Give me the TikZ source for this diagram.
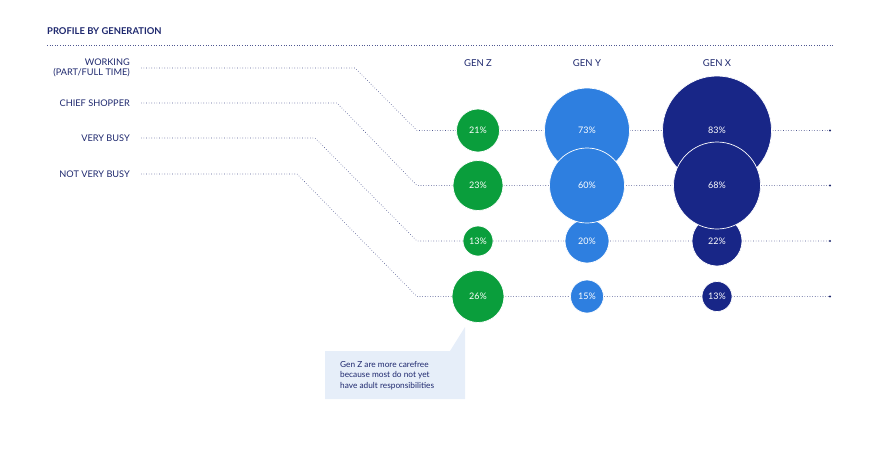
\documentclass[tikz,border=0pt]{standalone}
\usepackage{fontspec}
\setmainfont{Lato}
\definecolor{inknavy}{RGB}{30,40,110}
\definecolor{guidegray}{RGB}{80,88,145}
\definecolor{genzgreen}{RGB}{10,158,60}
\definecolor{genyblue}{RGB}{46,127,224}
\definecolor{genxnavy}{RGB}{24,38,135}
\definecolor{notebg}{RGB}{230,238,249}
\begin{document}
\begin{tikzpicture}[x=1pt,y=-1pt]
	\tikzstyle{rowlabel} = [anchor=east,align=right,text=inknavy,inner sep=0pt,font=\fontsize{9.2}{10.5}\selectfont]
	\tikzstyle{header} = [text=inknavy,inner sep=0pt,font=\fontsize{9.5}{10}\selectfont]
	\tikzstyle{guide} = [draw=guidegray,dotted,line width=0.6pt]
	\tikzstyle{bubble} = [circle,draw=white,line width=0.7pt,text=white,inner sep=0pt,font=\fontsize{9}{9}\selectfont]
	\useasboundingbox (0,0) rectangle (873,461);
	% title and top rule
	\node[header,anchor=west,font=\fontsize{9.4}{10}\bfseries] (title) at (47,31) {PROFILE BY GENERATION};
	\coordinate (rule0) at (47,45);
	\coordinate (rule1) at (833,45);
	\draw[guide] (rule0) -- (rule1);
	% row labels
	\node[rowlabel] (lab1) at (130,68) {WORKING\\(PART/FULL TIME)};
	\node[rowlabel] (lab2) at (130,103) {CHIEF SHOPPER};
	\node[rowlabel] (lab3) at (130,138) {VERY BUSY};
	\node[rowlabel] (lab4) at (130,174) {NOT VERY BUSY};
	% guide lines from labels to rows
	\foreach \i/\ly/\bx/\ry in {1/68/355/130.5, 2/103/337/185.5, 3/138/315/241, 4/174/297/296.5} {
		\coordinate (bendA\i) at (\bx,\ly);
		\coordinate (bendB\i) at (417,\ry);
		\coordinate (end\i) at (830,\ry);
		\draw[guide] ([xshift=11pt]lab\i.east) -- (bendA\i) -- (bendB\i) -- (end\i);
		\fill[inknavy] (end\i) circle (1.1pt);
	}
	% column headers
	\node[header] (hgenz) at (478,63) {GEN Z};
	\node[header] (hgeny) at (587,63) {GEN Y};
	\node[header] (hgenx) at (717,63) {GEN X};
	% gen z
	\foreach \i/\y/\s/\p in {1/130.5/43/21, 3/241/30/13, 4/296.5/52/26, 2/185.5/50/23}
		\node[bubble,fill=genzgreen,minimum size=\s pt] (genz\i) at (478,\y) {\p\%};
	% gen y
	\foreach \i/\y/\s/\p in {1/130.5/85/73, 3/241/44/20, 4/296.5/33/15, 2/185.5/75/60}
		\node[bubble,fill=genyblue,minimum size=\s pt] (geny\i) at (587,\y) {\p\%};
	% gen x
	\foreach \i/\y/\s/\p in {1/130.5/109/83, 3/241/50/22, 4/296.5/30/13, 2/185.5/87/68}
		\node[bubble,fill=genxnavy,minimum size=\s pt] (genx\i) at (717,\y) {\p\%};
	% callout
	\fill[notebg] (325,351) -- (450,351) -- (465,327) -- (465,399) -- (325,399) -- cycle;
	\node[anchor=west,align=left,text=inknavy,inner sep=0pt,font=\fontsize{8.3}{10.5}\selectfont] (note) at (340,375.5)
		{Gen Z are more carefree\\because most do not yet\\have adult responsibilities};
\end{tikzpicture}
\end{document}
